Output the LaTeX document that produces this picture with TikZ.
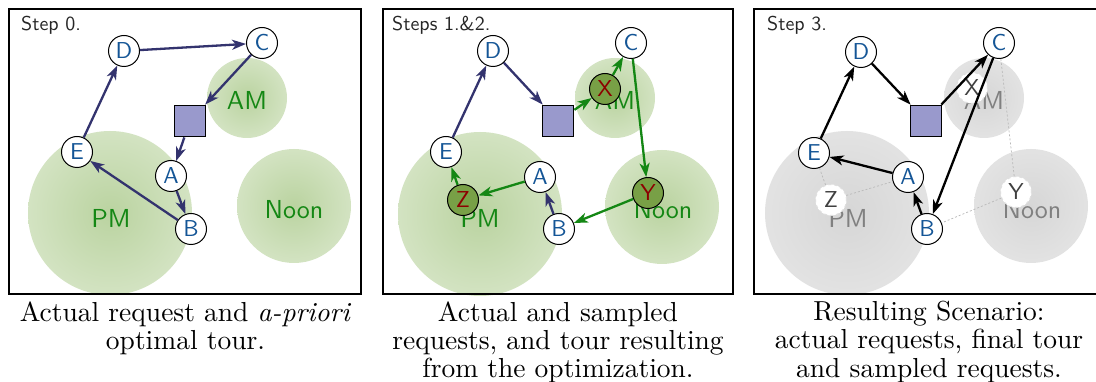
\documentclass[tikz,border=0pt]{standalone}
\usepackage{graphicx}
\usetikzlibrary{arrows.meta}
\definecolor{navyc}{RGB}{51,51,110}
\definecolor{greenc}{RGB}{20,135,20}
\definecolor{nodeblue}{RGB}{20,85,150}
\definecolor{sqfill}{RGB}{153,153,204}
\definecolor{olivec}{RGB}{120,160,70}
\definecolor{darkredc}{RGB}{140,0,0}
\definecolor{gbin}{RGB}{186,211,160}
\definecolor{gbmid}{RGB}{214,229,198}
\definecolor{gbout}{RGB}{240,246,233}
\definecolor{kbin}{RGB}{214,214,214}
\definecolor{kbmid}{RGB}{228,228,228}
\definecolor{kbout}{RGB}{243,243,243}
\pgfdeclareradialshading{greenblob}{\pgfpoint{0bp}{0bp}}{color(0bp)=(gbin); color(28bp)=(gbmid); color(50bp)=(gbout)}
\pgfdeclareradialshading{grayblob}{\pgfpoint{0bp}{0bp}}{color(0bp)=(kbin); color(28bp)=(kbmid); color(50bp)=(kbout)}
\newcommand\lt[1]{\scalebox{2.3}{\sffamily #1}}
\newcommand\zt[1]{\scalebox{2.6}{\sffamily #1}}
\newcommand\st[1]{\scalebox{2.0}{\sffamily #1}}
\tikzset{
  req/.style={circle, draw=black, line width=1pt, fill=white, minimum size=31pt, inner sep=0pt, text=nodeblue, font=\normalsize},
  sreq/.style={req, fill=olivec, text=darkredc},
  greq/.style={req, draw=gray!25, dashed, text=black!75},
  depot/.style={rectangle, draw=black, line width=1.8pt, fill=sqfill, minimum size=31pt, inner sep=0pt},
  tour/.style={-{Stealth[length=14pt,width=10pt,inset=4pt]}, line width=2.3pt, draw=navyc},
  gtour/.style={tour, draw=greenc},
  ktour/.style={tour, draw=black},
  zone/.style={text=greenc, inner sep=0pt},
  gzone/.style={zone, text=gray},
  steplbl/.style={anchor=base west, text=black!85, inner sep=0pt},
  frame/.style={draw=black, line width=2pt},
  capt/.style={align=center, scale=2.75, font=\fontsize{10}{10.2}\selectfont, anchor=north, inner sep=0pt},
  lk/.style={draw=gray!55, line width=0.7pt, dash pattern=on 2pt off 2pt},
}
\begin{document}
\begin{tikzpicture}[x=1pt,y=-1pt]
\useasboundingbox (0,0) rectangle (1096,382);
\fill[white] (0,0) rectangle (1096,382);

% ---------- Panel 1 ----------
\shade[shading=greenblob] (247,98) circle (40);
\shade[shading=greenblob] (110,213) circle (82);
\shade[shading=greenblob] (294,206) circle (57);
\node[zone] (a-am) at (247,100) {\zt{AM}};
\node[zone] (a-pm) at (111,218) {\zt{PM}};
\node[zone] (a-noon) at (294,210) {\zt{Noon}};
\node[req] (aD) at (124,51) {\lt{D}};
\node[req] (aC) at (262,43) {\lt{C}};
\node[depot] (aS) at (190,121) {};
\node[req] (aA) at (171,176) {\lt{A}};
\node[req] (aB) at (191,229) {\lt{B}};
\node[req] (aE) at (77,152) {\lt{E}};
\draw[tour] (aD) -- (aC);
\draw[tour] (aC) -- (aS);
\draw[tour] (aS) -- (aA);
\draw[tour] (aA) -- (aB);
\draw[tour] (aB) -- (aE);
\draw[tour] (aE) -- (aD);
\draw[frame] (9,9) rectangle (361,294);
\node[steplbl] (a-step) at (21,31) {\st{Step 0.}};
\node[capt] (a-cap) at (185.5,301) {Actual request and \textit{a-priori}\\optimal tour.};

% ---------- Panel 2 ----------
\shade[shading=greenblob] (615,98) circle (40);
\shade[shading=greenblob] (480,214) circle (82);
\shade[shading=greenblob] (662,207) circle (57);
\node[zone] (b-am) at (615,100) {\zt{AM}};
\node[zone] (b-pm) at (480,218) {\zt{PM}};
\node[zone] (b-noon) at (663,210) {\zt{Noon}};
\node[req] (bD) at (493,51) {\lt{D}};
\node[req] (bC) at (631,43) {\lt{C}};
\node[depot] (bS) at (558,121) {};
\node[req] (bA) at (540,177) {\lt{A}};
\node[req] (bB) at (559,229) {\lt{B}};
\node[req] (bE) at (446,152) {\lt{E}};
\node[sreq] (bX) at (605,89) {\lt{X}};
\node[sreq] (bY) at (648,193) {\lt{Y}};
\node[sreq] (bZ) at (463,200) {\lt{Z}};
\draw[tour] (bE) -- (bD);
\draw[tour] (bD) -- (bS);
\draw[gtour] (bS) -- (bX);
\draw[gtour] (bX) -- (bC);
\draw[gtour] (bC) -- (bY);
\draw[gtour] (bY) -- (bB);
\draw[tour] (bB) -- (bA);
\draw[gtour] (bA) -- (bZ);
\draw[gtour] (bZ) -- (bE);
\draw[frame] (383,9) rectangle (733,294);
\node[steplbl] (b-step) at (392,31) {\st{Steps 1.\&2.}};
\node[capt] (b-cap) at (558,301) {Actual and sampled\\requests, and tour resulting\\from the optimization.};

% ---------- Panel 3 ----------
\shade[shading=grayblob] (984,98) circle (40);
\shade[shading=grayblob] (847,213) circle (82);
\shade[shading=grayblob] (1031,206) circle (57);
\node[gzone] (c-am) at (984,100) {\zt{AM}};
\node[gzone] (c-pm) at (848,218) {\zt{PM}};
\node[gzone] (c-noon) at (1032,210) {\zt{Noon}};
\node[req] (cD) at (861,52) {\lt{D}};
\node[req] (cC) at (999,43) {\lt{C}};
\node[depot] (cS) at (926,121) {};
\node[req] (cA) at (908,177) {\lt{A}};
\node[req] (cB) at (927,229) {\lt{B}};
\node[req] (cE) at (814,153) {\lt{E}};
\node[greq] (cX) at (972,88) {\lt{X}};
\node[greq] (cY) at (1016,192) {\lt{Y}};
\node[greq] (cZ) at (831,200) {\lt{Z}};
\draw[lk] (cE) -- (cZ);
\draw[lk] (cZ) -- (cA);
\draw[lk] (cC) -- (cY);
\draw[lk] (cY) -- (cB);
\draw[ktour] (cE) -- (cD);
\draw[ktour] (cD) -- (cS);
\draw[ktour] (cS) -- (cC);
\draw[ktour] (cC) -- (cB);
\draw[ktour] (cB) -- (cA);
\draw[ktour] (cA) -- (cE);
\draw[frame] (754,9) rectangle (1099,294);
\node[steplbl] (c-step) at (767,31) {\st{Step 3.}};
\node[capt] (c-cap) at (929,301) {Resulting Scenario:\\actual requests, final tour\\and sampled requests.};
\end{tikzpicture}
\end{document}
